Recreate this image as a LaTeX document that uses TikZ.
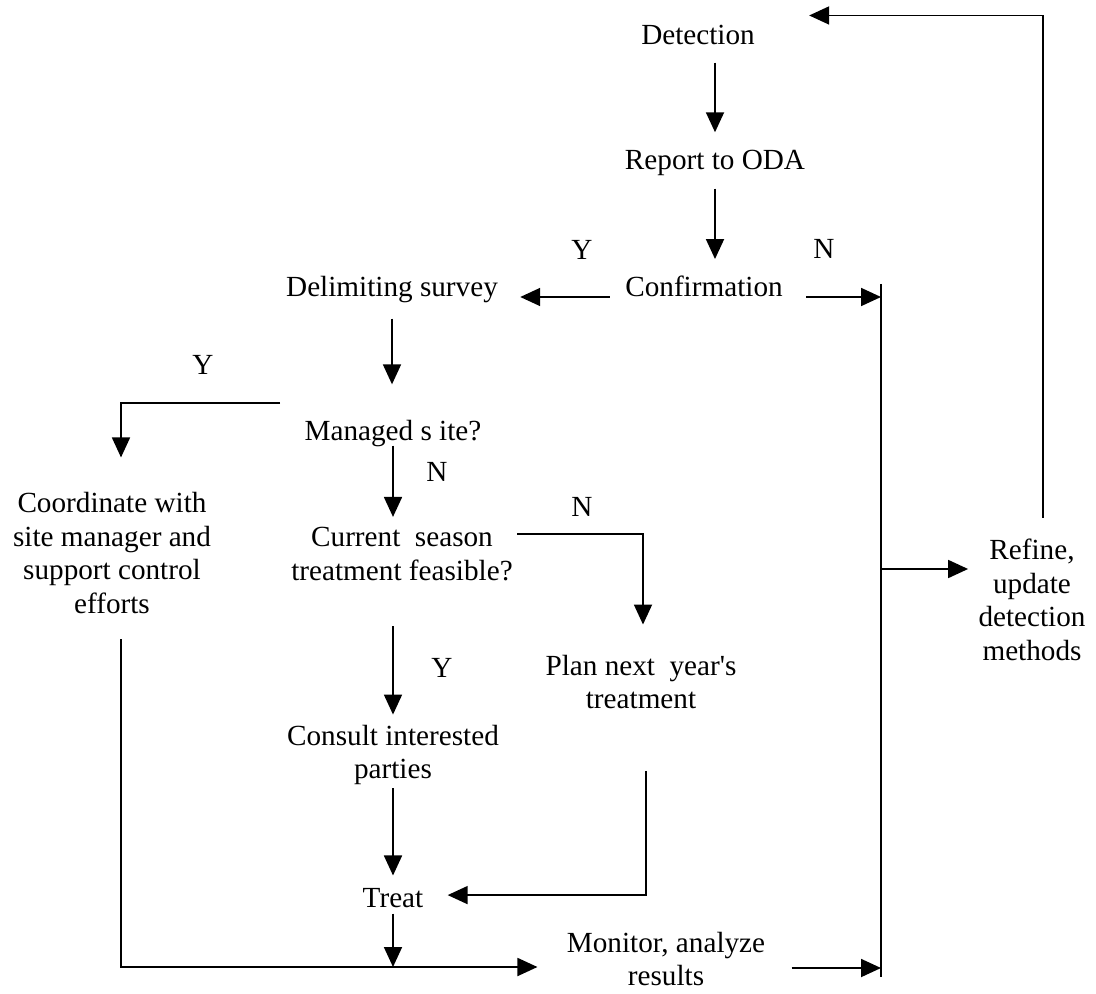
\documentclass[tikz,border=0pt]{standalone}
\usepackage{fontspec}
\setmainfont{Liberation Serif}
\usetikzlibrary{arrows.meta}

\begin{document}
\begin{tikzpicture}[
        x=0.5pt, y=-0.5pt,
        txt/.style={align=center, inner sep=5pt, font=\fontsize{14.6}{16.8}\selectfont},
        yn/.style={inner sep=0pt, font=\fontsize{14.6}{16.8}\selectfont},
        arrow/.style={-{Triangle[length=10pt, width=9pt]}, line width=0.9pt},
        line/.style={line width=0.9pt}
    ]
        \useasboundingbox (0,0) rectangle (1096,994);

        \node[txt, anchor=base] (detect) at (698,45) {Detection};
        \node[txt, anchor=base] (report) at (715,170) {Report to ODA};
        \node[txt, anchor=base] (confirm) at (704,297) {Confirmation};
        \node[txt, anchor=base] (delim) at (392,297) {Delimiting survey};
        \node[txt, anchor=base] (managed) at (393,440) {Managed s ite?};
        \node[txt] (coord) at (112,553) {Coordinate with\\site manager and\\support control\\efforts};
        \node[txt] (current) at (402,554) {Current\ \ season\\treatment feasible?};
        \node[txt] (plan) at (641,682) {Plan next\ \ year\textquotesingle s\\treatment};
        \node[txt] (consult) at (393,755) {Consult interested\\parties};
        \node[txt, anchor=base] (treat) at (393,907) {Treat};
        \node[txt] (monitor) at (666,959) {Monitor, analyze\\results};
        \node[txt] (refine) at (1032,600) {Refine,\\update\\detection\\methods};

        \node[yn] (y1) at (582,250) {Y};
        \node[yn] (n1) at (824,249) {N};
        \node[yn] (y2) at (203,365) {Y};
        \node[yn] (n2) at (437,472) {N};
        \node[yn] (n3) at (582,507) {N};
        \node[yn] (y3) at (442,668) {Y};

        \coordinate (bustop) at (881,284);
        \coordinate (busbot) at (881,977);
        \draw[line] (bustop) -- (busbot);

        \draw[arrow, shorten <=3.5pt, shorten >=4pt] (detect.south -| report) -- (report.north);
        \draw[arrow, shorten <=1pt, shorten >=3.5pt] (report.south) -- (report.south |- confirm.north);
        \draw[arrow] ([xshift=-2.5pt]confirm.base west) -- ([xshift=6pt]delim.base east);
        \draw[arrow] ([xshift=6.5pt]confirm.base east) -- (confirm.base east -| bustop);
        \draw[arrow, shorten <=2.5pt, shorten >=12.5pt] (delim.south) -- (delim.south |- managed.north);
        \draw[arrow] ([xshift=-7pt,yshift=15pt]managed.west) -| ([xshift=4.5pt,yshift=12.25pt]coord.north);
        \draw[arrow, shorten <=-5.5pt] (managed.south) -- (managed.south |- current.north);
        \draw[arrow] ([xshift=-3pt,yshift=10pt]current.east) -| ([xshift=1pt,yshift=10pt]plan.north);
        \draw[arrow, shorten <=17.5pt] (current.south -| consult) -- (consult.north);
        \draw[arrow, shorten <=-3.5pt, shorten >=1pt] (consult.south) -- (consult.south |- treat.north);
        \draw[arrow] ([xshift=2.5pt,yshift=-25.7pt]plan.south) |- ([xshift=7pt,yshift=1.25pt]treat.east);
        \draw[arrow] ([yshift=2pt]treat.south) -- ([yshift=-4pt]treat.south |- monitor.west);
        \draw[arrow] ([xshift=4.5pt,yshift=-7.6pt]coord.south) |- ([xshift=-9.5pt,yshift=-4pt]monitor.west);
        \draw[arrow] ([xshift=8pt,yshift=-4.5pt]monitor.east) -- ([yshift=-4.5pt]monitor.east -| bustop);
        \draw[arrow] ([yshift=15.5pt]refine.west -| bustop) -- ([yshift=15.5pt]refine.west);
        \draw[arrow] ([xshift=5.5pt,yshift=5.5pt]refine.north) |- ([xshift=22pt,yshift=10pt]detect.east);
    \end{tikzpicture}
\end{document}
